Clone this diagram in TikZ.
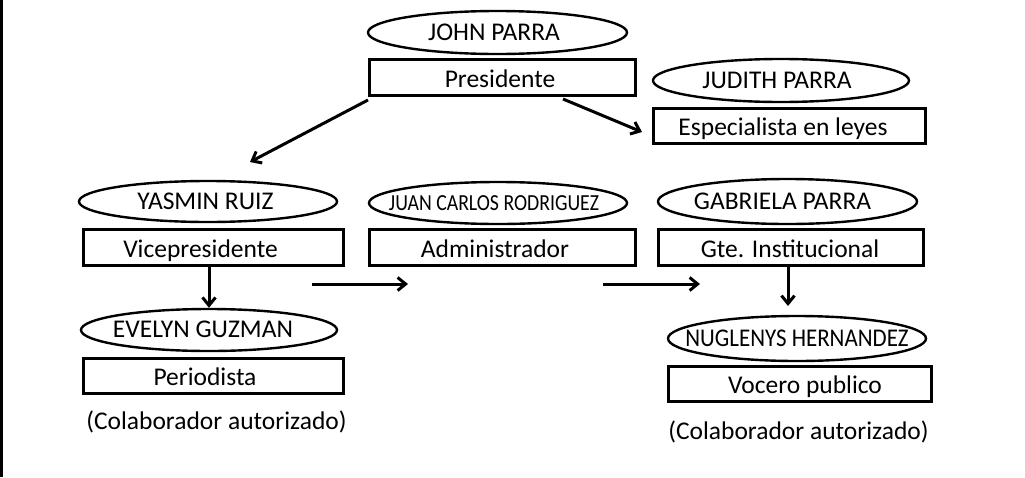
\documentclass[tikz,border=0pt]{standalone}
\usepackage{fontspec}
\setmainfont{Carlito}
\usepackage{graphicx}
\usetikzlibrary{shapes.geometric,arrows.meta}
\newcommand\txo[2]{\makebox[0pt]{\hspace*{#1}#2}}
\begin{document}
\begin{tikzpicture}[x=1pt,y=-1pt,
  font=\fontsize{25.5}{30}\selectfont,
  namebox/.style={draw, ellipse, line width=2.4pt, inner sep=0pt, text height=15pt, text depth=0pt},
  rolebox/.style={draw, rectangle, line width=3pt, inner sep=0pt, text height=19pt, text depth=0pt},
  note/.style={inner sep=0pt, text height=16pt, text depth=0pt},
  arr/.style={line width=3pt, -{Straight Barb[length=8pt,width=13pt]}}
]
\useasboundingbox (0,0) rectangle (1025,477);
\draw[line width=3pt] (1.5,0) -- (1.5,477);

% top
\node[namebox, minimum width=259pt, minimum height=43pt] (john) at (497.5,32.5) {\txo{-7pt}{JOHN PARRA}};
\node[rolebox, minimum width=266pt, minimum height=36pt] (pres) at (502.5,77.5) {\txo{-5pt}{Presidente}};
\node[namebox, minimum width=256pt, minimum height=43pt] (judith) at (781,80.5) {\txo{-8pt}{JUDITH PARRA}};
\node[rolebox, minimum width=272pt, minimum height=35pt] (esp) at (789.5,126) {\txo{-13pt}{Especialista en leyes}};

% middle row
\node[namebox, minimum width=258pt, minimum height=41pt] (yasmin) at (208,201.5) {\txo{-5pt}{YASMIN RUIZ}};
\node[rolebox, minimum width=260pt, minimum height=36pt] (vice) at (213.5,247.5) {\txo{-26pt}{Vicepresidente}};
\node[namebox, minimum width=258pt, minimum height=42pt] (juan) at (498,203) {\txo{-8pt}{\scalebox{0.86}[1]{\fontsize{23}{28}\selectfont JUAN CARLOS RODRIGUEZ}}};
\node[rolebox, minimum width=266pt, minimum height=36pt] (admin) at (502.5,247.5) {\txo{-15pt}{Administrador}};
\node[namebox, minimum width=259pt, minimum height=45pt] (gabriela) at (787.5,201.5) {\txo{-10pt}{GABRIELA PARRA}};
\node[rolebox, minimum width=265pt, minimum height=36pt] (gte) at (791,247.5) {\txo{-2pt}{Gte. Institucional}};

% bottom row
\node[namebox, minimum width=256pt, minimum height=42pt] (evelyn) at (209,330) {\txo{-12pt}{EVELYN GUZMAN}};
\node[rolebox, minimum width=260pt, minimum height=35pt] (peri) at (213.5,376) {\txo{-17pt}{Periodista}};
\node[note] (colab1) at (216.5,421) {(Colaborador autorizado)};
\node[namebox, minimum width=258pt, minimum height=45pt] (nug) at (797,338.5) {\txo{0pt}{\scalebox{0.9}[1]{NUGLENYS HERNANDEZ}}};
\node[rolebox, minimum width=263pt, minimum height=35pt] (voc) at (800,384) {\txo{10pt}{Vocero publico}};
\node[note] (colab2) at (798.5,431) {(Colaborador autorizado)};

% connectors
\coordinate (s1) at (368,100);
\coordinate (t1) at (250,162);
\coordinate (s2) at (563,99);
\coordinate (t2) at (642,132);
\coordinate (s3) at (312,284);
\coordinate (t3) at (408,284);
\coordinate (s4) at (603,284);
\coordinate (t4) at (700,284);
\coordinate (t6) at (788,306);

\draw[arr] (s1) -- (t1);
\draw[arr] (s2) -- (t2);
\draw[arr] (s3) -- (t3);
\draw[arr] (s4) -- (t4);
\draw[arr] (vice.south -| evelyn.north) -- (evelyn.north);
\draw[arr] (gte.south -| t6) -- (t6);
\end{tikzpicture}
\end{document}
